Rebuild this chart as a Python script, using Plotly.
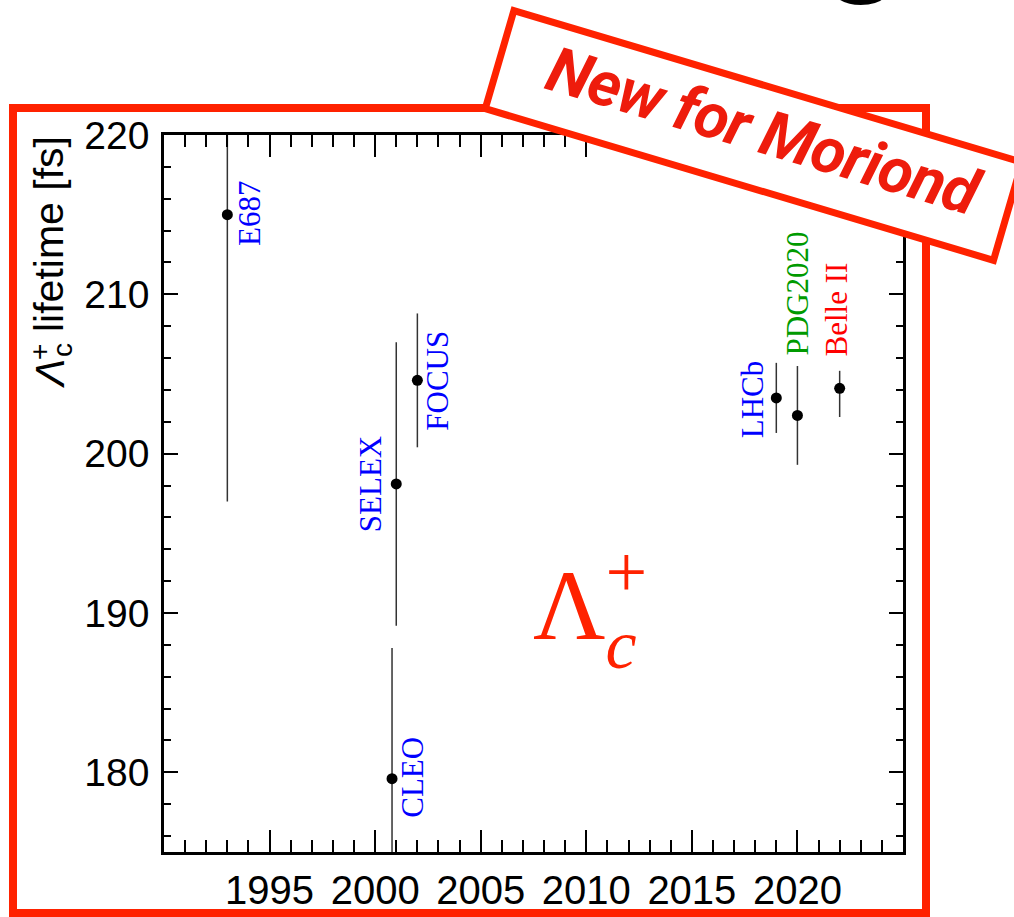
import plotly.graph_objects as go

# ---- measurements of the Lambda_c+ lifetime ----
experiments = ["E687", "SELEX", "FOCUS", "CLEO", "LHCb", "PDG2020", "Belle II"]
years = [1993.0, 2001.0, 2002.0, 2000.8, 2019.0, 2020.0, 2022.0]
lifetime_fs = [215.0, 198.1, 204.6, 179.6, 203.5, 202.4, 204.1]
err_plus = [18.0, 8.9, 4.2, 8.2, 2.2, 3.1, 1.1]
err_minus = [18.0, 8.9, 4.2, 8.2, 2.2, 3.1, 1.8]

x_range = [1990, 2025]
y_range = [175, 220]
x_tickvals = [1995, 2000, 2005, 2010, 2015, 2020]
y_tickvals = [180, 190, 200, 210, 220]

# ---- figure geometry (pixels) ----
W, H = 1014, 917
L, R, T, B = 164, 903, 135, 852


def px(x):
    return (x - L) / (R - L)


def py(y):
    return (B - y) / (B - T)


RED = "#ff2200"
SERIF = "Liberation Serif, Times New Roman, serif"
SANS = "Liberation Sans, Arial, Helvetica, sans-serif"

# label style per experiment: colour, placement, pixel offsets
label_style = {
    "E687": ("#0000ff", "side", 22, 1),
    "SELEX": ("#0000ff", "side", -25, 0),
    "FOCUS": ("#0000ff", "side", 20, 0),
    "CLEO": ("#0000ff", "side", 21, 1),
    "LHCb": ("#0000ff", "side", -23, -1),
    "PDG2020": ("#009a00", "top", 0, 9),
    "Belle II": ("#ff0000", "top", -3, 12),
}

fig = go.Figure()
fig.add_trace(
    go.Scatter(
        x=years,
        y=lifetime_fs,
        mode="markers",
        marker=dict(color="black", size=11),
        error_y=dict(
            type="data",
            symmetric=False,
            array=err_plus,
            arrayminus=err_minus,
            thickness=1.5,
            width=0,
            color="#333333",
        ),
        showlegend=False,
        cliponaxis=True,
    )
)

annotations = []
for name, x, y, ep in zip(experiments, years, lifetime_fs, err_plus):
    color, mode, dx, dy = label_style[name]
    if mode == "side":
        annotations.append(dict(
            x=x, y=y, xref="x", yref="y", text=name, showarrow=False,
            textangle=-90, xanchor="center", yanchor="middle",
            xshift=dx, yshift=dy,
            font=dict(family=SERIF, size=31, color=color)))
    else:
        annotations.append(dict(
            x=x, y=y + ep, xref="x", yref="y", text=name, showarrow=False,
            textangle=-90, xanchor="center", yanchor="bottom",
            xshift=dx, yshift=dy,
            font=dict(family=SERIF, size=31, color=color)))

# big particle symbol inside the frame (subscript c stacked under the +)
symbol_text = (
    "Λ"
    "<span style='font-size:70px;font-style:italic;baseline-shift:-29px;"
    "letter-spacing:-31px'>c</span>"
    "<span style='font-size:74px;baseline-shift:42px'>+</span>"
)
annotations.append(dict(
    x=px(531), y=py(607), xref="paper", yref="paper",
    text=symbol_text,
    showarrow=False, xanchor="left", yanchor="middle",
    font=dict(family=SERIF, size=100, color=RED)))

# y-axis title built from pieces (stacked sub/superscript)
annotations += [
    dict(x=px(49), y=py(134), xref="paper", yref="paper", text="lifetime [fs]",
         showarrow=False, textangle=-90, xanchor="center", yanchor="top",
         font=dict(family=SANS, size=41, color="black")),
    dict(x=px(50), y=py(374), xref="paper", yref="paper", text="<i>Λ</i>",
         showarrow=False, textangle=-90, xanchor="center", yanchor="middle",
         font=dict(family=SANS, size=41, color="black")),
    dict(x=px(39), y=py(352), xref="paper", yref="paper", text="+",
         showarrow=False, textangle=-90, xanchor="center", yanchor="middle",
         font=dict(family=SANS, size=28, color="black")),
    dict(x=px(62), y=py(350), xref="paper", yref="paper", text="c",
         showarrow=False, textangle=-90, xanchor="center", yanchor="middle",
         font=dict(family=SANS, size=28, color="black")),
]

# banner text
annotations.append(dict(
    x=px(764), y=py(131), xref="paper", yref="paper",
    text="<span style='letter-spacing:-1px'>New for Moriond</span>",
    showarrow=False, textangle=16.6, xanchor="center", yanchor="middle",
    font=dict(family="Roboto, Liberation Sans", size=63, color="#ee1c0c",
              weight="bold", style="italic")))

# fragment of a large heading glyph at the top edge
annotations.append(dict(
    x=px(862), y=py(-68), xref="paper", yref="paper", text="g",
    showarrow=False, xanchor="center", yanchor="middle",
    font=dict(family=SANS, size=130, color="black", weight="bold")))

# banner outline (centre line of the border)
bl = (485.3, 108.6)
tl = (513.9, 10.6)
tr = (1022.1, 162.3)
br = (993.5, 260.3)
banner_path = "M {} {} L {} {} L {} {} L {} {} Z".format(
    px(bl[0]), py(bl[1]), px(tl[0]), py(tl[1]),
    px(tr[0]), py(tr[1]), px(br[0]), py(br[1]))

shapes = [
    dict(type="rect", xref="paper", yref="paper",
         x0=px(13), x1=px(926), y0=py(913), y1=py(108),
         line=dict(color=RED, width=8), fillcolor="rgba(0,0,0,0)", layer="above"),
    dict(type="path", xref="paper", yref="paper", path=banner_path,
         line=dict(color=RED, width=7), fillcolor="white", layer="above"),
]

axis_common = dict(
    showline=True, linewidth=2.5, linecolor="black", mirror="allticks",
    ticks="inside", tickwidth=1.5, tickcolor="black",
    showgrid=False, zeroline=False, automargin=False,
)

fig.update_layout(
    width=W, height=H,
    margin=dict(l=L, r=W - R, t=T, b=H - B, pad=0, autoexpand=False),
    paper_bgcolor="white", plot_bgcolor="white",
    xaxis=dict(
        range=x_range, tickvals=x_tickvals, ticklen=22,
        ticklabelstandoff=1,
        tickfont=dict(family=SANS, size=40, color="black"),
        minor=dict(dtick=1, tick0=1990, ticks="inside", ticklen=12,
                   tickwidth=1.5, tickcolor="black", showgrid=False),
        **axis_common,
    ),
    yaxis=dict(
        range=y_range, tickvals=y_tickvals, ticklen=14,
        ticklabelstandoff=4,
        tickfont=dict(family=SANS, size=39, color="black"),
        minor=dict(dtick=2, tick0=0, ticks="inside", ticklen=7,
                   tickwidth=1.5, tickcolor="black", showgrid=False),
        **axis_common,
    ),
    annotations=annotations,
    shapes=shapes,
    showlegend=False,
)

fig.write_html("out.html")
